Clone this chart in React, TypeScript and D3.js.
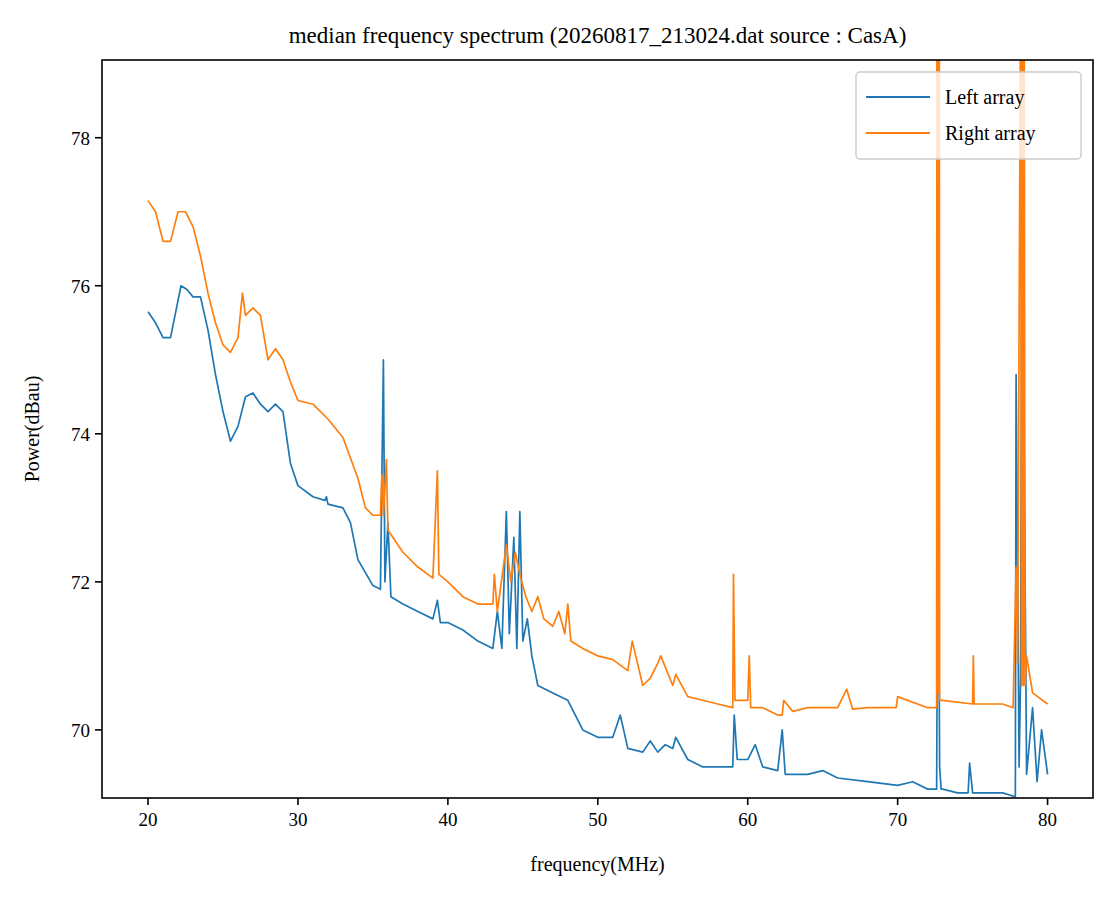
import * as d3 from "d3";

const leftFreq = [20,20.5,21,21.5,21.8,22.2,22.6,23,23.5,24,24.5,25,25.5,26,26.5,27,27.5,28,28.5,29,29.5,30,31,31.8,31.9,32,33,33.5,34,35,35.5,35.7,35.8,36,36.2,37,38,39,39.3,39.5,40,41,42,43,43.3,43.6,43.9,44.1,44.4,44.6,44.8,45,45.3,45.6,46,47,48,49,50,51,51.5,52,53,53.5,54,54.5,55,55.2,56,57,58,59,59.1,59.3,60,60.5,61,62,62.3,62.5,64,65,66,68,70,71,72,72.6,72.7,72.8,72.9,73,74,74.7,74.8,75,77,77.8,77.85,77.9,78.1,78.2,78.3,78.6,79,79.3,79.6,80];
const leftPower = [75.65,75.5,75.3,75.3,75.6,76.0,75.95,75.85,75.85,75.4,74.8,74.3,73.9,74.1,74.5,74.55,74.4,74.3,74.4,74.3,73.6,73.3,73.15,73.1,73.15,73.05,73.0,72.8,72.3,71.95,71.9,75.0,72.0,72.8,71.8,71.7,71.6,71.5,71.75,71.45,71.45,71.35,71.2,71.1,71.6,71.1,72.95,71.3,72.6,71.1,72.95,71.2,71.5,71.0,70.6,70.5,70.4,70.0,69.9,69.9,70.2,69.75,69.7,69.85,69.7,69.8,69.75,69.9,69.6,69.5,69.5,69.5,70.2,69.6,69.6,69.8,69.5,69.45,70.0,69.4,69.4,69.45,69.35,69.3,69.25,69.3,69.2,69.2,73.5,69.5,69.2,69.2,69.15,69.15,69.55,69.15,69.15,69.1,69.1,74.8,69.5,70.7,77.5,69.4,70.3,69.3,70.0,69.4,69.2];

const rightFreq = [20,20.5,21,21.5,22,22.5,23,23.5,24,24.5,25,25.5,26,26.3,26.5,27,27.5,28,28.5,29,29.5,30,31,32,33,34,34.5,35,35.5,35.6,35.7,35.9,36,37,38,39,39.3,39.4,40,41,42,43,43.1,43.3,43.9,44.2,44.5,44.8,45.2,45.6,46,46.4,47,47.4,47.8,48,48.2,49,50,51,52,52.3,53,53.5,54,54.2,55,55.2,56,57,58,59,59.05,59.15,60,60.1,60.2,61,62,62.3,62.4,63,64,66,66.6,67,68,69.9,70,72,72.6,72.62,72.66,72.7,72.74,72.78,72.8,73,75,75.05,75.1,77,77.7,77.9,78.0,78.2,78.26,78.32,78.38,78.44,78.5,78.6,79,80];
const rightPower = [77.15,77.0,76.6,76.6,77.0,77.0,76.8,76.4,75.9,75.5,75.2,75.1,75.3,75.9,75.6,75.7,75.6,75.0,75.15,75.0,74.7,74.45,74.4,74.2,73.95,73.4,73.0,72.9,72.9,73.45,72.9,73.65,72.7,72.4,72.2,72.05,73.5,72.1,72.0,71.8,71.7,71.7,72.1,71.6,72.5,72.0,72.4,72.1,71.8,71.6,71.8,71.5,71.4,71.6,71.3,71.7,71.2,71.1,71.0,70.95,70.8,71.2,70.6,70.7,70.9,71.0,70.6,70.75,70.45,70.4,70.35,70.3,72.1,70.4,70.4,71.0,70.3,70.3,70.2,70.2,70.4,70.25,70.3,70.3,70.55,70.28,70.3,70.3,70.45,70.3,70.3,80,70.5,80,70.5,80,70.4,70.4,70.35,71.0,70.35,70.35,70.3,72.2,70.9,80,70.6,80,70.6,80,70.6,71.0,70.5,70.35];

const xTicks = [20, 30, 40, 50, 60, 70, 80];
const yTicks = [70, 72, 74, 76, 78];

const series = [
  { name: "Left array", color: "#1f77b4", freq: leftFreq, power: leftPower },
  { name: "Right array", color: "#ff7f0e", freq: rightFreq, power: rightPower },
];

export default function App() {
  const W = 1114, H = 898;
  const m = { left: 102, right: 1093, top: 60, bottom: 798 };
  const x = d3.scaleLinear().domain([16.93, 83.03]).range([m.left, m.right]);
  const y = d3.scaleLinear().domain([69.08, 79.05]).range([m.bottom, m.top]);
  const font = "'Liberation Serif', 'DejaVu Serif', serif";

  return (
    <svg width={W} height={H} style={{ position: "absolute", left: 0, top: 0 }} fontFamily={font}>
      <rect width={W} height={H} fill="#fff" />
      <defs>
        <clipPath id="plot">
          <rect x={m.left} y={m.top} width={m.right - m.left} height={m.bottom - m.top} />
        </clipPath>
      </defs>
      <g clipPath="url(#plot)">
        {series.map((s) => {
          const pts = s.freq.map((f, i) => [x(f), y(s.power[i])] as [number, number]);
          return (
            <path key={s.name} d={d3.line()(pts) ?? ""} fill="none" stroke={s.color} strokeWidth={1.7} strokeLinejoin="round" />
          );
        })}
      </g>
      <rect x={m.left} y={m.top} width={m.right - m.left} height={m.bottom - m.top} fill="none" stroke="#000" strokeWidth={1.6} />
      {xTicks.map((t) => (
        <g key={t}>
          <line x1={x(t)} x2={x(t)} y1={m.bottom} y2={m.bottom + 7} stroke="#000" strokeWidth={1.6} />
          <text x={x(t)} y={m.bottom + 28} textAnchor="middle" fontSize={19}>{t}</text>
        </g>
      ))}
      {yTicks.map((t) => (
        <g key={t}>
          <line x1={m.left - 7} x2={m.left} y1={y(t)} y2={y(t)} stroke="#000" strokeWidth={1.6} />
          <text x={m.left - 12} y={y(t) + 7} textAnchor="end" fontSize={19}>{t}</text>
        </g>
      ))}
      <text x={(m.left + m.right) / 2} y={871} textAnchor="middle" fontSize={20}>frequency(MHz)</text>
      <text transform={`translate(39,${(m.top + m.bottom) / 2}) rotate(-90)`} textAnchor="middle" fontSize={20}>Power(dBau)</text>
      <text x={(m.left + m.right) / 2} y={43} textAnchor="middle" fontSize={23}>median frequency spectrum (20260817_213024.dat source : CasA)</text>
      <g>
        <rect x={856} y={72} width={225} height={87} rx={4} fill="#fff" fillOpacity={0.8} stroke="#ccc" strokeWidth={1.4} />
        {series.map((s, i) => (
          <g key={s.name}>
            <line x1={866} x2={930} y1={97 + i * 36} y2={97 + i * 36} stroke={s.color} strokeWidth={2} />
            <text x={945} y={104 + i * 36} fontSize={20}>{s.name}</text>
          </g>
        ))}
      </g>
    </svg>
  );
}
